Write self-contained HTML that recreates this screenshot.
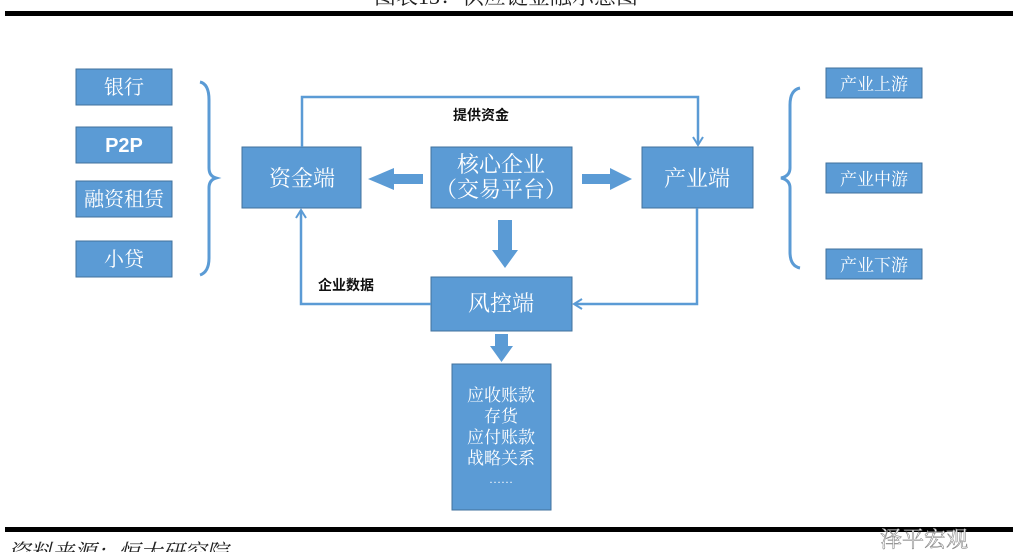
<!DOCTYPE html>
<html><head><meta charset="utf-8"><style>
html,body{margin:0;padding:0;background:#fff;width:1013px;height:552px;overflow:hidden}
svg text{font-family:"Liberation Serif","Noto Serif CJK SC",serif}
</style></head><body>
<svg width="1013" height="552" viewBox="0 0 1013 552" xmlns="http://www.w3.org/2000/svg">
<defs>
<marker id="ah" markerWidth="12" markerHeight="12" refX="9" refY="6" orient="auto" markerUnits="userSpaceOnUse">
<path d="M1,1 L9,6 L1,11" fill="none" stroke="#5b9bd5" stroke-width="2"/>
</marker>
</defs>
<text x="506" y="4" font-size="22" text-anchor="middle" fill="#222">图表13：供应链金融示意图</text>
<rect x="5" y="11" width="1008" height="5" fill="#000"/>
<rect x="5" y="527" width="1008" height="5" fill="#000"/>
<text x="8" y="560" font-size="22" font-style="italic" fill="#222">资料来源：恒大研究院</text>
<text x="880" y="547" font-size="22" fill="#fff" stroke="#888" stroke-width="0.6">泽平宏观</text>
<g fill="#5b9bd5" stroke="#41719c" stroke-width="1">
<rect x="76" y="69" width="96" height="36"/>
<rect x="76" y="127" width="96" height="36"/>
<rect x="76" y="181" width="96" height="36"/>
<rect x="76" y="241" width="96" height="36"/>
<rect x="826" y="68" width="96" height="30"/>
<rect x="826" y="163" width="96" height="30"/>
<rect x="826" y="249" width="96" height="30"/>
<rect x="242" y="147" width="119" height="61"/>
<rect x="431" y="147" width="141" height="61"/>
<rect x="642" y="147" width="111" height="61"/>
<rect x="431" y="277" width="141" height="54"/>
<rect x="452" y="364" width="99" height="146"/>
</g>
<g fill="none" stroke="#5b9bd5" stroke-width="3">
<path d="M200,82 Q209,84 209,100 L209,168 Q209,176 216,178 Q209,180 209,188 L209,258 Q209,272 200,275"/>
<path d="M800,88 Q790,90 790,105 L790,168 Q790,176 781,178 Q790,180 790,188 L790,252 Q790,266 800,268"/>
</g>
<g fill="none" stroke="#5b9bd5" stroke-width="2.5">
<path d="M302,147 L302,97 L698,97 L698,145" marker-end="url(#ah)"/>
<path d="M431,304 L301,304 L301,210" marker-end="url(#ah)"/>
<path d="M697,208 L697,304 L574,304" marker-end="url(#ah)"/>
</g>
<g fill="#5b9bd5">
<polygon points="423,174 394,174 394,168 368,179 394,190 394,184 423,184"/>
<polygon points="582,174 610,174 610,168 632,179 610,190 610,184 582,184"/>
<polygon points="498,220 512,220 512,250 518,250 505,268 492,250 498,250"/>
<polygon points="495,334 508,334 508,346 513,346 501.5,362 490,346 495,346"/>
</g>
<g font-size="20" fill="#fff" text-anchor="middle">
<text x="124" y="94">银行</text>
<text x="124" y="152" font-family="Liberation Sans,sans-serif" font-weight="bold" style="font-family:'Liberation Sans',sans-serif">P2P</text>
<text x="124" y="206">融资租赁</text>
<text x="124" y="266">小贷</text>
<text x="302" y="186" font-size="22">资金端</text>
<text x="501" y="172" font-size="22">核心企业</text>
<text x="501" y="197" font-size="22">（交易平台）</text>
<text x="697" y="186" font-size="22">产业端</text>
<text x="501" y="311" font-size="22">风控端</text>
<text x="874" y="90" font-size="17">产业上游</text>
<text x="874" y="185" font-size="17">产业中游</text>
<text x="874" y="271" font-size="17">产业下游</text>
<g font-size="17">
<text x="501" y="401">应收账款</text>
<text x="501" y="422">存货</text>
<text x="501" y="443">应付账款</text>
<text x="501" y="464">战略关系</text>
<text x="501" y="483" font-size="12">……</text>
</g>
</g>
<text x="453" y="120" font-size="14" font-weight="bold" fill="#111" style="font-family:'Liberation Sans','Noto Sans CJK SC',sans-serif">提供资金</text>
<text x="318" y="290" font-size="14" font-weight="bold" fill="#111" style="font-family:'Liberation Sans','Noto Sans CJK SC',sans-serif">企业数据</text>
</svg>
</body></html>
